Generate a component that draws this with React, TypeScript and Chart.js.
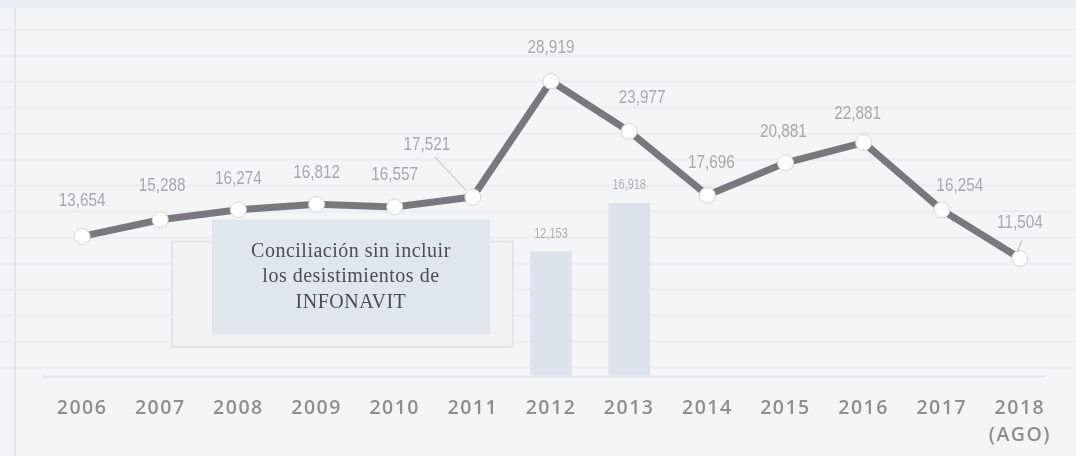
import React, { useEffect, useRef } from "react";
import { Chart, registerables } from "chart.js";

Chart.register(...registerables);

const years: (string | string[])[] = [
  "2006", "2007", "2008", "2009", "2010", "2011", "2012",
  "2013", "2014", "2015", "2016", "2017", ["2018", "(AGO)"],
];
const lineValues = [13654, 15288, 16274, 16812, 16557, 17521, 28919, 23977, 17696, 20881, 22881, 16254, 11504];
const barValues = [null, null, null, null, null, null, 12153, 16918, null, null, null, null, null];
const calloutLines = ["Conciliación sin incluir", "los desistimientos de", "INFONAVIT"];

// label offsets (style only) relative to each point: [dx, dy, leader]
const labelOffsets: [number, number, number][] = [
  [0, -35, 0], [2, -34, 0], [0, -31, 0], [0, -31, 0], [0, -32, 0], [-46, -52, 1], [0, -33, 0],
  [13, -33, 0], [4, -32, 0], [-2, -31, 0], [-6, -28, 0], [18, -24, 0], [0, -35, 2],
];

const fmt = (v: number) => v.toLocaleString("en-US");

function condensedText(ctx: CanvasRenderingContext2D, text: string, x: number, y: number, sx: number) {
  ctx.save();
  ctx.translate(x, y);
  ctx.scale(sx, 1);
  ctx.fillText(text, 0, 0);
  ctx.restore();
}

const decorPlugin = {
  id: "decor",
  beforeDraw(chart: any) {
    const { ctx, width, height } = chart;
    ctx.save();
    ctx.fillStyle = "#f4f5f7";
    ctx.fillRect(0, 0, width, height);
    ctx.fillStyle = "rgba(225,230,238,0.35)";
    for (let y = 28; y < 370; y += 26) ctx.fillRect(0, y, width, 3);
    ctx.fillStyle = "#e7edf3";
    ctx.fillRect(0, 0, width, 8);
    ctx.fillStyle = "#e2e7ee";
    ctx.fillRect(14, 8, 2, height - 8);
    ctx.restore();
    // letter spacing for the axis tick labels (drawn before datasets)
    ctx.letterSpacing = "1.5px";
  },
  beforeDatasetsDraw(chart: any) {
    const { ctx, chartArea, scales } = chart;
    ctx.letterSpacing = "0px";
    const x = scales.x, y = scales.y;
    ctx.save();
    ctx.strokeStyle = "#e3e6eb";
    ctx.lineWidth = 2;
    ctx.beginPath();
    ctx.moveTo(chartArea.left - 1, chartArea.bottom + 1);
    ctx.lineTo(chartArea.right - 14, chartArea.bottom + 1);
    ctx.stroke();
    // outer outline box
    const ox1 = x.getPixelForValue(1.15), ox2 = x.getPixelForValue(5.51);
    const oy1 = y.getPixelForValue(13155), oy2 = y.getPixelForValue(2770);
    ctx.fillStyle = "#f1f2f4";
    ctx.fillRect(ox1, oy1, ox2 - ox1, oy2 - oy1);
    ctx.strokeStyle = "#e2e4e8";
    ctx.lineWidth = 2;
    ctx.strokeRect(ox1, oy1, ox2 - ox1, oy2 - oy1);
    // inner filled box
    const ix1 = x.getPixelForValue(1.66), ix2 = x.getPixelForValue(5.22);
    const iy1 = y.getPixelForValue(15300), iy2 = y.getPixelForValue(4050);
    ctx.fillStyle = "#dfe6ee";
    ctx.fillRect(ix1, iy1, ix2 - ix1, iy2 - iy1);
    ctx.fillStyle = "#4c4c52";
    ctx.font = '20px "Liberation Serif", "DejaVu Serif", serif';
    ctx.letterSpacing = "0.5px";
    ctx.textAlign = "center";
    ctx.textBaseline = "middle";
    const cx = (ix1 + ix2) / 2;
    calloutLines.forEach((t, i) => ctx.fillText(t, cx, iy1 + 32 + i * 25.5));
    ctx.restore();
    ctx.letterSpacing = "0px";
  },
  afterDatasetsDraw(chart: any) {
    const { ctx } = chart;
    ctx.save();
    ctx.letterSpacing = "0px";
    ctx.textAlign = "center";
    ctx.textBaseline = "middle";
    const lineMeta = chart.getDatasetMeta(1);
    ctx.font = '18px "Liberation Sans", Arial, sans-serif';
    lineMeta.data.forEach((pt: any, i: number) => {
      const [dx, dy, leader] = labelOffsets[i];
      const lx = pt.x + dx, ly = pt.y + dy;
      ctx.fillStyle = "#a9a9ad";
      condensedText(ctx, fmt(lineValues[i]), lx, ly, 0.85);
      if (leader === 1) {
        ctx.strokeStyle = "#b8b8bc";
        ctx.lineWidth = 1;
        ctx.beginPath();
        ctx.moveTo(lx + 8, ly + 12);
        ctx.lineTo(pt.x - 7, pt.y - 7);
        ctx.stroke();
      } else if (leader === 2) {
        ctx.strokeStyle = "#b8b8bc";
        ctx.lineWidth = 1;
        ctx.beginPath();
        ctx.moveTo(pt.x + 2, pt.y - 18);
        ctx.lineTo(pt.x - 3, pt.y - 6);
        ctx.stroke();
      }
    });
    const barMeta = chart.getDatasetMeta(0);
    ctx.font = '14px "Liberation Sans", Arial, sans-serif';
    barMeta.data.forEach((bar: any, i: number) => {
      const v = barValues[i];
      if (v == null) return;
      ctx.fillStyle = "#b0b0b4";
      condensedText(ctx, fmt(v), bar.x, bar.y - 18, 0.78);
    });
    ctx.restore();
  },
};

export default function App() {
  const ref = useRef<HTMLCanvasElement | null>(null);
  useEffect(() => {
    if (!ref.current) return;
    const chart = new Chart(ref.current, {
      type: "bar",
      data: {
        labels: years as any,
        datasets: [
          {
            type: "bar",
            data: barValues as any,
            backgroundColor: "#dde3ec",
            barThickness: 41,
            order: 2,
          },
          {
            type: "line",
            data: lineValues,
            borderColor: "#78787e",
            borderWidth: 7,
            pointRadius: 8,
            pointBackgroundColor: "#ffffff",
            pointBorderColor: "#d6d7da",
            pointBorderWidth: 1,
            tension: 0,
            order: 1,
          } as any,
        ],
      },
      options: {
        animation: false,
        responsive: false,
        maintainAspectRatio: false,
        layout: { padding: { left: 43, right: 17, top: 0, bottom: -12 } },
        plugins: { legend: { display: false }, tooltip: { enabled: false } },
        scales: {
          x: {
            grid: { display: false, drawTicks: false },
            border: { display: false },
            ticks: {
              color: "#8e8e90",
              font: { family: '"Open Sans", sans-serif', size: 19.5, weight: "600", lineHeight: 1.4 },
              padding: 19,
              maxRotation: 0,
              autoSkip: false,
            },
          },
          y: {
            display: false,
            min: 0,
            max: 36000,
          },
        },
      },
      plugins: [decorPlugin],
    });
    return () => chart.destroy();
  }, []);
  return (
    <div style={{ position: "fixed", left: 0, top: 0, width: 1076, height: 456 }}>
      <canvas ref={ref} width={1076} height={456} style={{ display: "block" }} />
    </div>
  );
}
